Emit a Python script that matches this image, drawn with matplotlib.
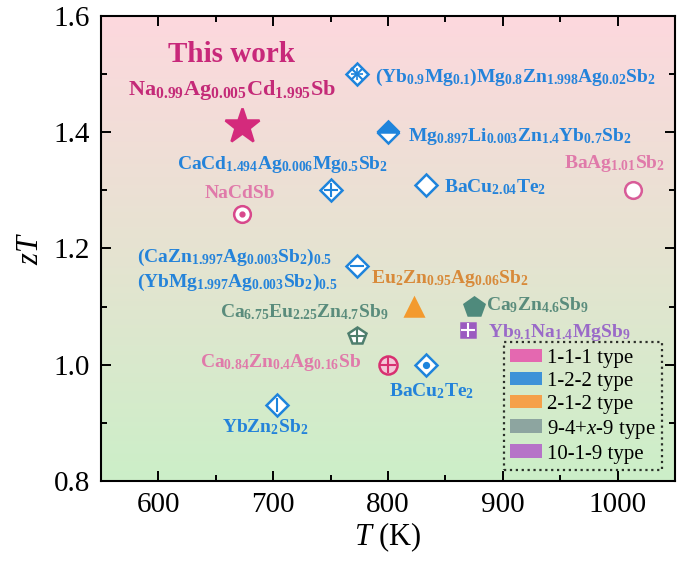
#!/usr/bin/env python3
"""zT vs T comparison of Zintl thermoelectrics (recreated figure)."""

import numpy as np
import matplotlib
matplotlib.use("Agg")
import matplotlib.pyplot as plt
from matplotlib.colors import LinearSegmentedColormap
from matplotlib.patches import Patch
from matplotlib.ticker import MultipleLocator

plt.rcParams["font.family"] = ["Liberation Serif", "DejaVu Serif"]
plt.rcParams["mathtext.fontset"] = "custom"
plt.rcParams["mathtext.rm"] = "Liberation Serif:bold"
plt.rcParams["mathtext.it"] = "Liberation Serif:italic"
plt.rcParams["mathtext.bf"] = "Liberation Serif:bold"

# ---- data ------------------------------------------------------------------
compounds = [
    "Na0.99Ag0.005Cd1.995Sb", "(Yb0.9Mg0.1)Mg0.8Zn1.998Ag0.02Sb2",
    "Mg0.897Li0.003Zn1.4Yb0.7Sb2", "CaCd1.494Ag0.006Mg0.5Sb2", "NaCdSb",
    "BaCu2.04Te2", "BaAg1.01Sb2", "(CaZn/YbMg)0.5", "Eu2Zn0.95Ag0.06Sb2",
    "Ca9Zn4.6Sb9", "Ca6.75Eu2.25Zn4.7Sb9", "Yb9.1Na1.4MgSb9",
    "Ca0.84Zn0.4Ag0.16Sb", "BaCu2Te2", "YbZn2Sb2",
]
T_K = [673, 773, 800, 750, 673, 833, 1013, 773, 823, 875, 773, 870, 800, 833, 703]
zT = [1.41, 1.50, 1.40, 1.30, 1.26, 1.31, 1.30, 1.17, 1.10, 1.10, 1.05, 1.06, 1.00, 1.00, 0.93]
family = ["111", "122", "122", "122", "111", "122", "111", "122", "212",
          "949", "949", "1019", "111", "122", "122"]

type_names = ["1-1-1 type", "1-2-2 type", "2-1-2 type", "9-4+$x$-9 type", "10-1-9 type"]
type_colors = ["#E468B0", "#3E92D8", "#F5A04A", "#8DA5A0", "#B673C8"]

labels = [
    r"Na$_{0.99}$Ag$_{0.005}$Cd$_{1.995}$Sb",
    r"(Yb$_{0.9}$Mg$_{0.1}$)Mg$_{0.8}$Zn$_{1.998}$Ag$_{0.02}$Sb$_2$",
    r"Mg$_{0.897}$Li$_{0.003}$Zn$_{1.4}$Yb$_{0.7}$Sb$_2$",
    r"CaCd$_{1.494}$Ag$_{0.006}$Mg$_{0.5}$Sb$_2$",
    "NaCdSb",
    r"BaCu$_{2.04}$Te$_2$",
    r"BaAg$_{1.01}$Sb$_2$",
    r"(CaZn$_{1.997}$Ag$_{0.003}$Sb$_2$)$_{0.5}$" + "\n"
    + r"(YbMg$_{1.997}$Ag$_{0.003}$Sb$_2$)$_{0.5}$",
    r"Eu$_2$Zn$_{0.95}$Ag$_{0.06}$Sb$_2$",
    r"Ca$_9$Zn$_{4.6}$Sb$_9$",
    r"Ca$_{6.75}$Eu$_{2.25}$Zn$_{4.7}$Sb$_9$",
    r"Yb$_{9.1}$Na$_{1.4}$MgSb$_9$",
    r"Ca$_{0.84}$Zn$_{0.4}$Ag$_{0.16}$Sb",
    r"BaCu$_2$Te$_2$",
    r"YbZn$_2$Sb$_2$",
]

# ---- styles ----------------------------------------------------------------
BLUE = "#1E84DC"
PINK = "#D8488C"
# (marker, size, face, edge, inner marker, inner size)
mstyle = [
    ("*", 26, "#D42A7C", "#D42A7C", None, 0),
    ("D", 11, "white", BLUE, "x", 9),
    ("D", 11, BLUE, BLUE, None, 0),      # half filled, handled below
    ("D", 11, "white", BLUE, "+", 10),
    ("o", 12, "white", PINK, ".", 5),
    ("D", 11, "white", BLUE, None, 0),
    ("o", 12, "white", "#D85C98", None, 0),
    ("D", 11, "white", BLUE, "_", 10),
    ("^", 13, "#F39A2E", "#F39A2E", None, 0),
    ("p", 15, "#4F8A7C", "#4F8A7C", None, 0),
    ("p", 13, "white", "#4E7E6E", "+", 11),
    ("s", 10, "#9B5BC0", "#9B5BC0", "+", 10),
    ("o", 13, "#F4C8D8", "#D83070", "+", 12),
    ("D", 11, "white", BLUE, ".", 6),
    ("D", 11, "white", BLUE, "|", 10),
]
LBLUE = "#2483DA"
LPINK = "#E07AAA"
# (x, y, ha, colour, size)
lstyle = [
    (664, 1.473, "center", "#C42A78", 16),
    (789, 1.495, "left", LBLUE, 14),
    (817, 1.393, "left", LBLUE, 14),
    (708, 1.344, "center", LBLUE, 14),
    (671, 1.295, "center", LPINK, 14),
    (849, 1.306, "left", LBLUE, 14),
    (997, 1.347, "center", LPINK, 14),
    (581, 1.163, "left", LBLUE, 14),
    (785, 1.149, "left", "#D88A3A", 14),
    (885, 1.103, "left", "#5A8C7C", 14),
    (727, 1.091, "center", "#5A8C7C", 14),
    (887, 1.056, "left", "#9A6AC8", 14),
    (706, 1.003, "center", LPINK, 14),
    (838, 0.955, "center", LBLUE, 14),
    (693, 0.893, "center", LBLUE, 14),
]

fig = plt.figure(figsize=(6.82, 5.61), dpi=100)
ax = fig.add_axes([0.148, 0.1426, 0.842, 0.829])
ax.set_xlim(550, 1050)
ax.set_ylim(0.8, 1.6)

# background gradient pink -> green
cmap = LinearSegmentedColormap.from_list(
    "bg", ["#CCEFC8", "#E6E3D1", "#FDD8DE"])
grad = np.linspace(0, 1, 256).reshape(-1, 1)
ax.imshow(grad, cmap=cmap, origin="lower", aspect="auto",
          extent=[550, 1050, 0.8, 1.6], zorder=0)

for i, (t, z) in enumerate(zip(T_K, zT)):
    m, ms, fc, ec, inner, ims = mstyle[i]
    if i == 2:
        ax.plot(t, z, marker="D", ms=ms, color=BLUE, mec=BLUE, mew=1.8,
                fillstyle="top", markerfacecoloralt="white", zorder=4)
    else:
        ax.plot(t, z, marker=m, ms=ms, mfc=fc, mec=ec, mew=1.8, zorder=4,
                linestyle="none")
    if inner:
        if inner in ".":
            ax.plot(t, z, marker="o", ms=ims * 0.7, color=ec, zorder=5)
        else:
            icol = "white" if fc == ec else ec
            ax.plot(t, z, marker=inner, ms=ims, mec=icol, mew=1.5, zorder=5)
    if i == 1:
        ax.plot(t, z, marker="+", ms=9, mec=ec, mew=1.2, zorder=5)

for lab, (x, y, ha, col, fs) in zip(labels, lstyle):
    ax.text(x, y, lab, ha=ha, va="center", color=col, fontsize=fs,
            fontweight="bold", zorder=6, linespacing=1.3)

ax.text(664, 1.533, "This work", ha="center", va="center", color="#C8287A",
        fontsize=21, fontweight="bold", zorder=6)

# axes cosmetics
ax.xaxis.set_major_locator(MultipleLocator(100))
ax.xaxis.set_minor_locator(MultipleLocator(50))
ax.yaxis.set_major_locator(MultipleLocator(0.2))
ax.yaxis.set_minor_locator(MultipleLocator(0.1))
ax.tick_params(which="both", direction="in", top=True, right=True,
               labelsize=21, width=1.4, pad=8)
ax.tick_params(which="major", length=7)
ax.tick_params(which="minor", length=4)
ax.yaxis.set_major_formatter(matplotlib.ticker.FormatStrFormatter("%.1f"))
for s in ax.spines.values():
    s.set_linewidth(1.5)
ax.set_xlabel(r"$T$ (K)", fontsize=22, labelpad=2)
ax.set_ylabel(r"$zT$", fontsize=22, labelpad=6)

handles = [Patch(facecolor=c, edgecolor="none") for c in type_colors]
leg = ax.legend(handles, type_names, loc="lower right",
                bbox_to_anchor=(0.977, 0.024), borderaxespad=0,
                fontsize=15, handlelength=1.5, handleheight=0.65,
                handletextpad=0.25, labelspacing=0.18, borderpad=0.3,
                fancybox=False, frameon=True)
frame = leg.get_frame()
frame.set_facecolor("none")
frame.set_edgecolor("black")
frame.set_linestyle(":")
frame.set_linewidth(1.6)
leg.set_zorder(7)

fig.savefig("out.png", dpi=100)
